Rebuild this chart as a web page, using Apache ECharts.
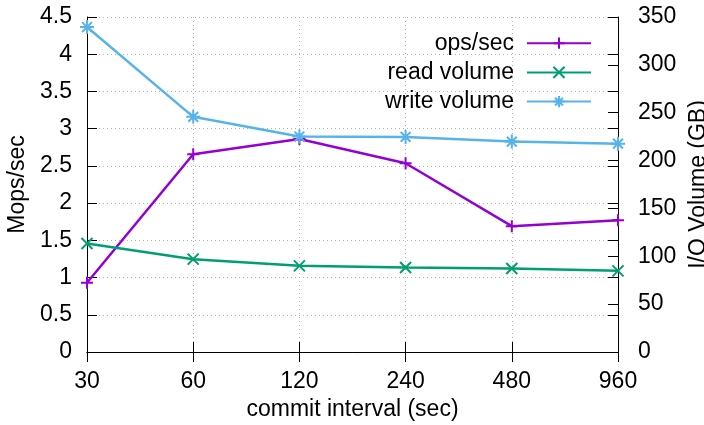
<!DOCTYPE html>
<html><head><meta charset="utf-8">
<script src="https://cdn.jsdelivr.net/npm/echarts@6/dist/echarts.min.js"></script>
<style>html,body{margin:0;padding:0;background:#fff}#c{width:704px;height:425px}</style>
</head><body><div id="c"></div>
<script>
const categories = ['30','60','120','240','480','960'];
const opsPerSec = [0.93, 2.656, 2.86, 2.535, 1.69, 1.77];
const readVolume = [113.4, 97.0, 90.0, 88.3, 87.2, 84.8];
const writeVolume = [339.5, 245.7, 225.1, 224.7, 219.8, 217.7];
const seriesNames = ['ops/sec', 'read volume', 'write volume'];
const colors = ['#9400d3', '#009e73', '#56b4e9'];

const FONT = "'Liberation Sans', Arial, sans-serif";
const FS = 23;
const plusPath = 'path://M5,0L5,10M0,5L10,5';
const crossPath = 'path://M0,0L10,10M10,0L0,10';
const starPath = 'path://M5,0L5,10M0,5L10,5M1.5,1.5L8.5,8.5M8.5,1.5L1.5,8.5';
const tick = {show: true, inside: true, length: 10, lineStyle: {color: '#000', width: 1}};
const grid = {show: true, lineStyle: {color: '#b0b0b0', type: [1, 3], width: 1}};

function mk(name, data, idx, sym, size, color) {
  return {
    name, type: 'line', data, yAxisIndex: idx, symbol: sym, symbolSize: size,
    showAllSymbol: true,
    lineStyle: {color, width: 2.5},
    itemStyle: {color, borderColor: color, borderWidth: 2},
    emphasis: {disabled: true}, animation: false
  };
}

const chart = echarts.init(document.getElementById('c'));
chart.setOption({
  animation: false,
  textStyle: {fontFamily: FONT},
  grid: {left: 87, right: 86, top: 17, bottom: 73, containLabel: false, outerBoundsMode: 'none'},
  legend: {
    orient: 'vertical', right: 112, top: 31.7, align: 'right', padding: 0,
    itemWidth: 64, itemHeight: 14, itemGap: 6.2,
    textStyle: {fontFamily: FONT, fontSize: FS, color: '#000', lineHeight: 20, padding: [0, 8, 0, 0]},
    data: seriesNames
  },
  xAxis: [{
    type: 'category', data: categories, boundaryGap: false,
    name: 'commit interval (sec)', nameLocation: 'middle', nameGap: 37,
    nameTextStyle: {fontFamily: FONT, fontSize: FS, color: '#000'},
    axisLine: {show: true, lineStyle: {color: '#000', width: 1}},
    axisTick: Object.assign({alignWithLabel: true}, tick),
    axisLabel: {fontFamily: FONT, fontSize: FS, color: '#000', margin: 18},
    splitLine: grid
  }, {
    type: 'category', data: categories, boundaryGap: false, position: 'top',
    axisLine: {show: true, lineStyle: {color: '#000', width: 1}},
    axisTick: tick, axisLabel: {show: false}, splitLine: {show: false}
  }],
  yAxis: [{
    type: 'value', min: 0, max: 4.5, interval: 0.5,
    name: 'Mops/sec', nameLocation: 'middle', nameGap: 51,
    nameTextStyle: {fontFamily: FONT, fontSize: FS, color: '#000'},
    axisLine: {show: true, lineStyle: {color: '#000', width: 1}},
    axisTick: tick,
    axisLabel: {fontFamily: FONT, fontSize: FS, color: '#000', margin: 15},
    splitLine: grid
  }, {
    type: 'value', min: 0, max: 350, interval: 50, position: 'right',
    name: 'I/O Volume (GB)', nameLocation: 'middle', nameGap: 55, nameRotate: 90,
    nameTextStyle: {fontFamily: FONT, fontSize: FS, color: '#000'},
    axisLine: {show: true, lineStyle: {color: '#000', width: 1}},
    axisTick: tick,
    axisLabel: {fontFamily: FONT, fontSize: FS, color: '#000', margin: 20},
    splitLine: {show: false}
  }, {
    type: 'value', min: 0, max: 4.5, interval: 0.5, position: 'right',
    axisLine: {show: false}, axisTick: tick, axisLabel: {show: false}, splitLine: {show: false}
  }],
  series: [
    mk(seriesNames[0], opsPerSec, 0, plusPath, 12, colors[0]),
    mk(seriesNames[1], readVolume, 1, crossPath, 11, colors[1]),
    mk(seriesNames[2], writeVolume, 1, starPath, 14, colors[2])
  ]
});
</script></body></html>
